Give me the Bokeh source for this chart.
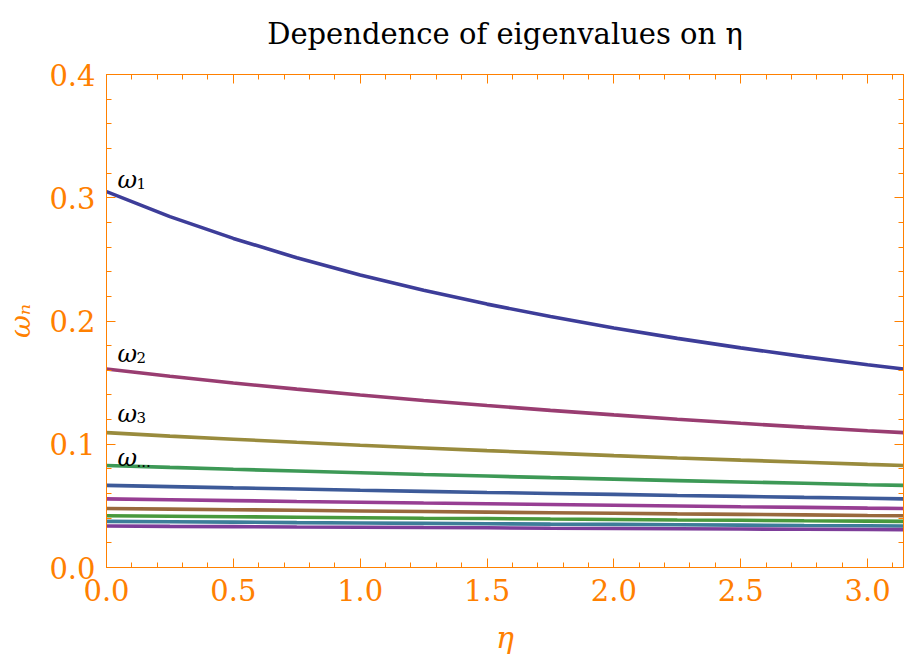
from bokeh.plotting import figure
from bokeh.models import (LinearAxis, SingleIntervalTicker, PrintfTickFormatter,
                          Range1d, ColumnDataSource)
from bokeh.core.properties import value
from bokeh.embed import file_html
from bokeh.resources import INLINE

# ---- data ----
eta = [0.0, 0.25, 0.5, 0.75, 1.0, 1.25, 1.5, 1.75, 2.0, 2.25, 2.5, 2.75, 3.0, 3.1416]

omega_1 = [0.3050, 0.2847, 0.2670, 0.2513, 0.2374, 0.2250, 0.2137, 0.2036, 0.1943,
           0.1859, 0.1782, 0.1711, 0.1645, 0.1610]
omega_2 = [0.1610, 0.1552, 0.1497, 0.1447, 0.1400, 0.1355, 0.1314, 0.1275, 0.1238,
           0.1203, 0.1170, 0.1139, 0.1110, 0.1094]
omega_3 = [0.1094, 0.1066, 0.1041, 0.1016, 0.0992, 0.0970, 0.0948, 0.0928, 0.0908,
           0.0889, 0.0871, 0.0854, 0.0837, 0.0828]
omega_4 = [0.0828, 0.0812, 0.0797, 0.0783, 0.0769, 0.0755, 0.0742, 0.0729, 0.0717,
           0.0705, 0.0694, 0.0683, 0.0672, 0.0666]
omega_5 = [0.0666, 0.0656, 0.0646, 0.0637, 0.0627, 0.0618, 0.0609, 0.0601, 0.0593,
           0.0584, 0.0577, 0.0569, 0.0562, 0.0557]
omega_6 = [0.0557, 0.0550, 0.0543, 0.0536, 0.0530, 0.0523, 0.0517, 0.0511, 0.0505,
           0.0499, 0.0493, 0.0488, 0.0482, 0.0479]
omega_7 = [0.0479, 0.0474, 0.0469, 0.0464, 0.0459, 0.0454, 0.0449, 0.0444, 0.0440,
           0.0435, 0.0431, 0.0427, 0.0422, 0.0420]
omega_8 = [0.0420, 0.0416, 0.0412, 0.0408, 0.0404, 0.0400, 0.0397, 0.0393, 0.0390,
           0.0386, 0.0383, 0.0379, 0.0376, 0.0374]
omega_9 = [0.0374, 0.0371, 0.0368, 0.0364, 0.0361, 0.0358, 0.0355, 0.0352, 0.0350,
           0.0347, 0.0344, 0.0341, 0.0339, 0.0337]
omega_10 = [0.0337, 0.0334, 0.0332, 0.0329, 0.0327, 0.0324, 0.0322, 0.0319, 0.0317,
            0.0315, 0.0312, 0.0310, 0.0308, 0.0307]

series = [omega_1, omega_2, omega_3, omega_4, omega_5,
          omega_6, omega_7, omega_8, omega_9, omega_10]

# curve labels (text and anchor in data units)
label_sub = ["1", "2", "3", "..."]
label_x = [0.043, 0.043, 0.043, 0.043]
label_y = [0.3148, 0.1736, 0.1249, 0.0892]

TITLE = "Dependence of eigenvalues on η"

colors = ["#3d3d99", "#993d71", "#998b3d", "#3d9956", "#3d5a99",
          "#973e93", "#99693d", "#48993d", "#3d7d99", "#7d3d99"]

ORANGE = "#ff8000"
SERIF = "DejaVu Serif"

p = figure(width=904, height=663, output_backend="svg", toolbar_location=None,
           x_range=Range1d(0, 3.14159265), y_range=Range1d(0, 0.4),
           min_border_left=106, min_border_right=1, min_border_top=74,
           min_border_bottom=96, x_axis_location=None, y_axis_location=None)

p.xgrid.visible = False
p.ygrid.visible = False
p.outline_line_color = ORANGE
p.outline_line_width = 1
p.background_fill_color = "white"
p.border_fill_color = "white"


def make_axis(kind, show_labels):
    if kind == "x":
        ax = LinearAxis(ticker=SingleIntervalTicker(interval=0.5, num_minor_ticks=5))
    else:
        ax = LinearAxis(ticker=SingleIntervalTicker(interval=0.1, num_minor_ticks=5))
    ax.formatter = PrintfTickFormatter(format="%.1f")
    ax.axis_line_color = ORANGE
    ax.axis_line_width = 1
    ax.major_tick_line_color = ORANGE
    ax.minor_tick_line_color = ORANGE
    ax.major_tick_in = 9
    ax.major_tick_out = 0
    ax.minor_tick_in = 5
    ax.minor_tick_out = 0
    ax.major_label_text_color = ORANGE
    ax.major_label_text_font = SERIF
    if show_labels:
        ax.major_label_text_font_size = "29px"
        ax.major_label_standoff = 11
    else:
        ax.major_label_text_font_size = "0px"
        ax.major_label_standoff = 0
        ax.major_label_text_alpha = 0
    return ax


xb = make_axis("x", True)
xb.axis_label = "η"
xb.axis_label_text_font = SERIF
xb.axis_label_text_font_style = "italic"
xb.axis_label_text_font_size = "30px"
xb.axis_label_text_color = ORANGE
xb.axis_label_standoff = 16
p.add_layout(xb, "below")

yl = make_axis("y", True)
yl.axis_label = "ωₙ"
yl.axis_label_text_font = SERIF
yl.axis_label_text_font_style = "italic"
yl.axis_label_text_font_size = "28px"
yl.axis_label_text_color = ORANGE
yl.axis_label_standoff = 9
p.add_layout(yl, "left")

# top frame axis carries the chart title as its label
xt = make_axis("x", False)
xt.axis_label = TITLE
xt.axis_label_text_font = SERIF
xt.axis_label_text_font_style = "normal"
xt.axis_label_text_font_size = "29px"
xt.axis_label_text_color = "black"
xt.axis_label_standoff = 24
p.add_layout(xt, "above")

p.add_layout(make_axis("y", False), "right")

for ys, c in zip(series, colors):
    p.line(eta, ys, line_color=c, line_width=3.6)

lab = ColumnDataSource(dict(x=label_x, y=label_y, sub=label_sub,
                            w=["ω"] * len(label_sub)))
p.text(x="x", y="y", text="w", source=lab, text_font=value(SERIF),
       text_font_style="italic", text_font_size="24px", text_color="black",
       text_baseline="alphabetic", text_align="left")
p.text(x="x", y="y", text="sub", source=lab, text_font=value(SERIF),
       text_font_size="15px", text_color="black", x_offset=19, y_offset=4,
       text_baseline="alphabetic", text_align="left")

open("out.html", "w").write(file_html(p, INLINE))
